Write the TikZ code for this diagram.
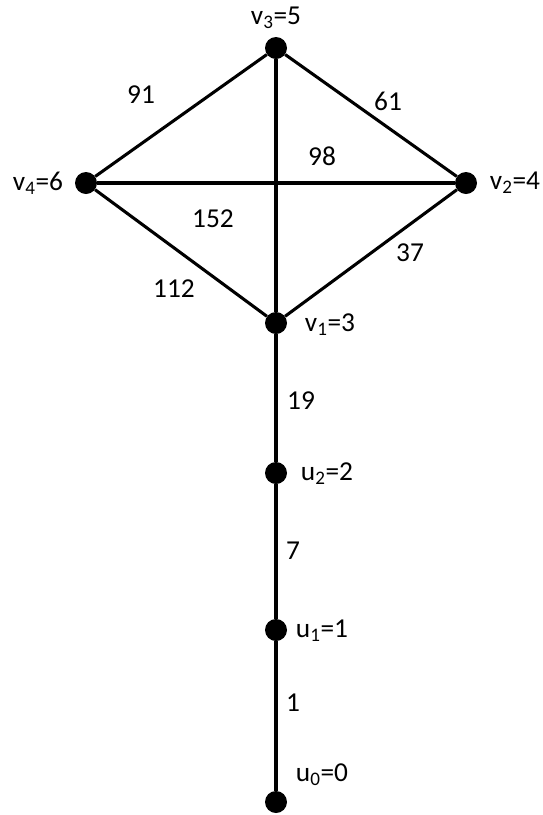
\documentclass[tikz,border=0pt]{standalone}
\usepackage{fontspec}
\setmainfont{Carlito}
\usetikzlibrary{positioning}

\begin{document}
\begin{tikzpicture}[
  x=0.75pt, y=-0.75pt,
  vtx/.style={circle, fill=black, inner sep=0pt, minimum size=16.5pt},
  edge/.style={line width=2.3pt},
  lbl/.style={font=\fontsize{20.5}{24}\selectfont, inner sep=1pt},
  wt/.style={font=\fontsize{20.5}{24}\selectfont, inner sep=1pt}
]
\useasboundingbox (0,0) rectangle (543,815);
% vertices
\node[vtx] (v3) at (276,48) {};
\node[vtx] (v4) at (86,183) {};
\node[vtx] (v2) at (466,183) {};
\node[vtx] (v1) at (276,323) {};
\node[vtx] (u2) at (276,473) {};
\node[vtx] (u1) at (276,630) {};
\node[vtx] (u0) at (276,802) {};
% edges
\draw[edge] (v3) -- (v4);
\draw[edge] (v3) -- (v2);
\draw[edge] (v3) -- (v1);
\draw[edge] (v4) -- (v2);
\draw[edge] (v4) -- (v1);
\draw[edge] (v2) -- (v1);
\draw[edge] (v1) -- (u2);
\draw[edge] (u2) -- (u1);
\draw[edge] (u1) -- (u0);
% vertex labels
\node[lbl] (l3) at (276,18) {v\textsubscript{3}=5};
\node[lbl] (l4) at (38,183) {v\textsubscript{4}=6};
\node[lbl] (l2) at (515,183) {v\textsubscript{2}=4};
\node[lbl] (l1) at (330,325) {v\textsubscript{1}=3};
\node[lbl] (lu2) at (327,474) {u\textsubscript{2}=2};
\node[lbl] (lu1) at (322,631) {u\textsubscript{1}=1};
\node[lbl] (lu0) at (322,775) {u\textsubscript{0}=0};
% weights
\node[wt] (w34) at (141,95) {91};
\node[wt] (w32) at (388,101) {61};
\node[wt] (w42) at (322,156) {98};
\node[wt] (w31) at (213,219) {152};
\node[wt] (w21) at (410,253) {37};
\node[wt] (w41) at (174,289) {112};
\node[wt] (wv1) at (301,401) {19};
\node[wt] (wu2) at (293,551) {7};
\node[wt] (wu1) at (293,703) {1};
\end{tikzpicture}
\end{document}
